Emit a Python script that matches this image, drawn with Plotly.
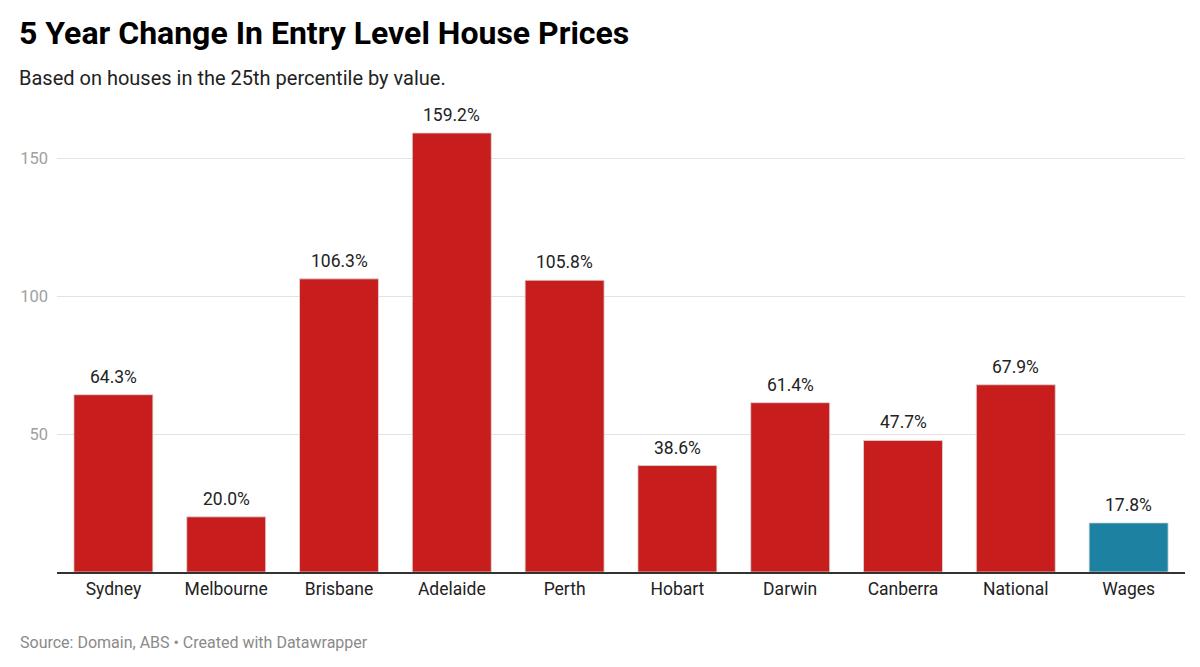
import plotly.graph_objects as go

categories = ["Sydney", "Melbourne", "Brisbane", "Adelaide", "Perth", "Hobart", "Darwin", "Canberra", "National", "Wages"]
values = [64.3, 20.0, 106.3, 159.2, 105.8, 38.6, 61.4, 47.7, 67.9, 17.8]
colors = ["#c71e1d"] * 9 + ["#1d81a2"]
y_ticks = [50, 100, 150]

OFF_X, OFF_Y = 8, 8  # page offsets
W, H = 1200, 667
ml, mr, mt, mb = 53 - OFF_X, 23, 117 - OFF_Y, 103
pw = W - ml - mr
ph = H - mt - mb

def px_x(p):
    return (p - OFF_X - ml) / pw

def px_y(p):
    return 1 - (p - OFF_Y - mt) / ph

fig = go.Figure(go.Bar(
    x=categories, y=values,
    marker=dict(color=colors, line=dict(color="#d9d9d9", width=0.8)),
    cliponaxis=False,
    hoverinfo="skip",
))

annotations = [
    dict(x=c, y=v, xref="x", yref="y", text=f"{v:.1f}%", showarrow=False,
         yanchor="bottom", yshift=6, font=dict(family="Roboto", size=17.5, color="#222"))
    for c, v in zip(categories, values)
]
annotations += [
    dict(text="<b>5 Year Change In Entry Level House Prices</b>", xref="paper", yref="paper",
         x=px_x(13), y=px_y(33), xanchor="left", yanchor="middle", showarrow=False,
         font=dict(family="Roboto", size=32, color="#000")),
    dict(text="Based on houses in the 25th percentile by value.", xref="paper", yref="paper",
         x=px_x(13), y=px_y(78), xanchor="left", yanchor="middle", showarrow=False,
         font=dict(family="Roboto", size=20, color="#222")),
    dict(text="Source: Domain, ABS • Created with Datawrapper", xref="paper", yref="paper",
         x=px_x(14), y=px_y(642), xanchor="left", yanchor="middle", showarrow=False,
         font=dict(family="Roboto", size=16, color="#8a8a8a")),
]

fig.update_layout(
    width=W, height=H,
    margin=dict(l=ml, r=mr, t=mt, b=mb),
    paper_bgcolor="white", plot_bgcolor="white",
    bargap=0.3,
    showlegend=False,
    font=dict(family="Roboto"),
    xaxis=dict(
        showgrid=False, showline=True, linecolor="#333", linewidth=1.5,
        ticks="", tickfont=dict(family="Roboto", size=17.5, color="#222"),
        fixedrange=True,
    ),
    yaxis=dict(
        range=[0, 165], tickvals=y_ticks, showgrid=True, gridcolor="#e3e3e3",
        gridwidth=1, zeroline=False, showline=False, ticks="",
        tickfont=dict(family="Roboto", size=16.5, color="#a0a0a0"),
        ticklabelstandoff=8,
    ),
    annotations=annotations,
)

fig.write_html("out.html")
